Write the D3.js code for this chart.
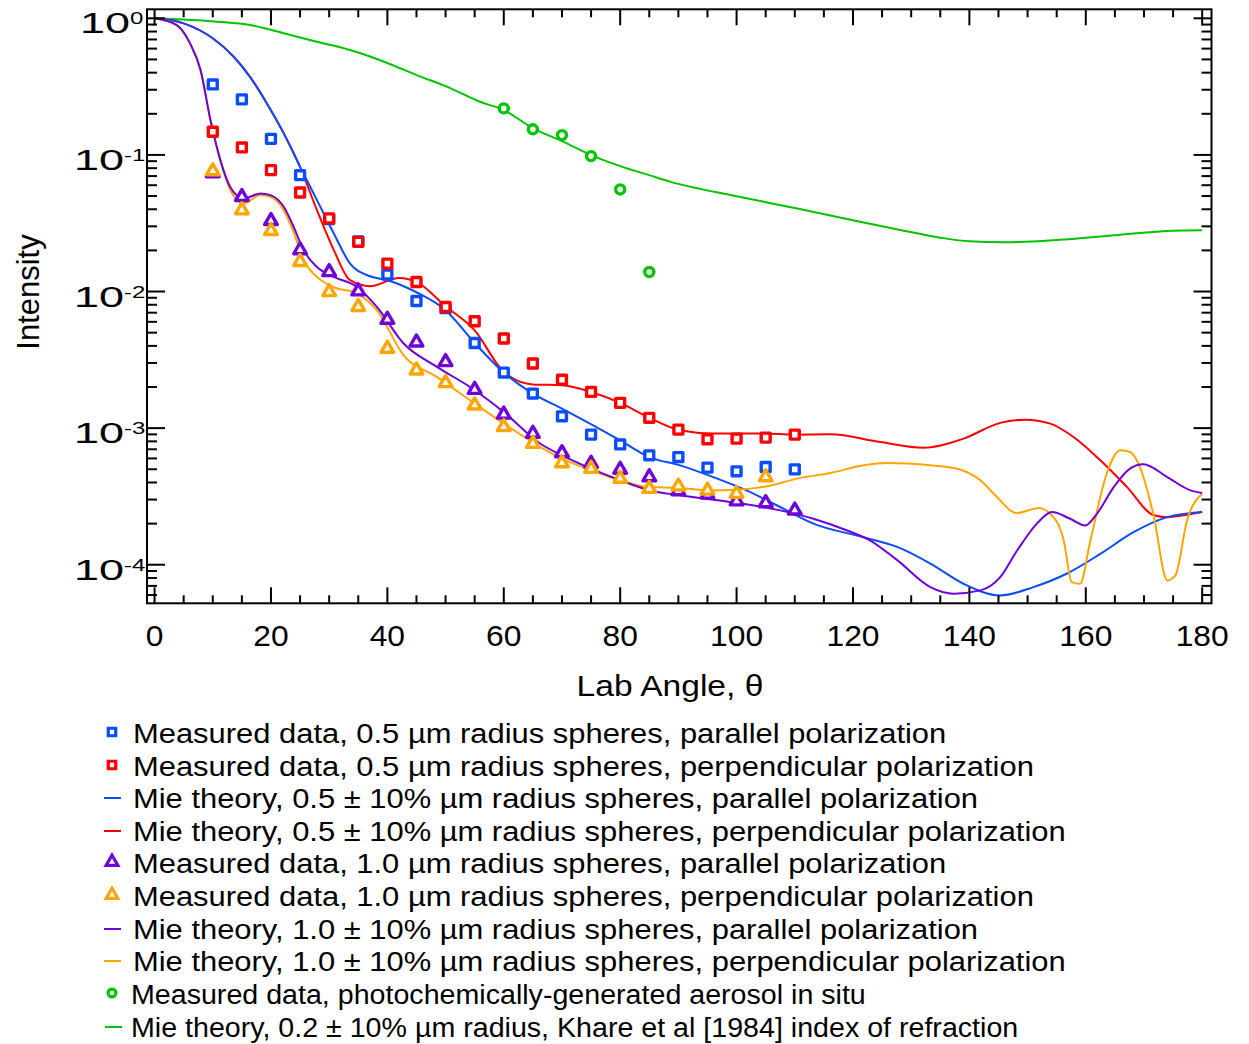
<!DOCTYPE html>
<html>
<head>
<meta charset="utf-8">
<script src="https://cdn.jsdelivr.net/npm/d3@7"></script>
<style>
  html, body { margin: 0; padding: 0; background: #fff; }
  svg { display: block; font-family: "Liberation Sans", Arial, sans-serif; }
</style>
</head>
<body>
<svg id="chart" width="1249" height="1044"></svg>
<script>
// ---- measured data (lab angle in degrees, relative intensity) ----
const measAngles = [10, 15, 20, 25, 30, 35, 40, 45, 50, 55, 60, 65, 70, 75, 80, 85, 90, 95, 100, 105, 110];
const meas05Par = [0.328, 0.255, 0.131, 0.0711, 0.0339, 0.0233, 0.0133, 0.00853, 0.00755, 0.0042, 0.00255, 0.00179, 0.00122, 0.000896, 0.00076, 0.000632, 0.000614, 0.000514, 0.000483, 0.000519, 0.000499];
const meas05Perp = [0.1477, 0.1135, 0.0774, 0.0531, 0.0343, 0.0231, 0.016, 0.01175, 0.00771, 0.00606, 0.00453, 0.00297, 0.00226, 0.00184, 0.00153, 0.00119, 0.000975, 0.000828, 0.000838, 0.000852, 0.000896];
const meas10Par = [0.0735, 0.0493, 0.0329, 0.0201, 0.0139, 0.01005, 0.00623, 0.00425, 0.00305, 0.00191, 0.00126, 0.000912, 0.000657, 0.00055, 0.000497, 0.000438, 0.000346, 0.000327, 0.000292, 0.000283, 0.00025];
const meas10PerpAngles = [10, 15, 20, 25, 30, 35, 40, 45, 50, 55, 60, 65, 70, 75, 80, 85, 90, 95, 100, 105];
const meas10Perp = [0.0761, 0.0394, 0.0278, 0.0165, 0.00993, 0.00771, 0.00382, 0.00265, 0.00214, 0.00147, 0.00102, 0.000769, 0.000555, 0.000505, 0.000427, 0.00036, 0.000375, 0.00035, 0.000331, 0.000438];
const aerosolAngles = [60, 65, 70, 75, 80, 85];
const aerosolMeas = [0.219, 0.154, 0.1396, 0.098, 0.0559, 0.0139];

// ---- Mie theory curves ----
const mie05ParAngles = [0, 5, 10, 13.6, 16.4, 19.3, 22.2, 25, 27.9, 30.8, 33.6, 37, 40, 45, 50, 55, 60, 65, 70, 80, 85, 90.3, 96, 101.7, 107.5, 113.2, 121.8, 127.6, 133.3, 139, 145.3, 151, 156.7, 162.5, 168.2, 174, 180];
const mie05Par = [1.0, 0.919, 0.714, 0.523, 0.373, 0.238, 0.1437, 0.0818, 0.0467, 0.0266, 0.016, 0.01294, 0.0121, 0.00988, 0.0073, 0.0042, 0.00255, 0.00179, 0.00139, 0.000814, 0.000614, 0.000534, 0.000438, 0.00035, 0.000264, 0.0002, 0.000159, 0.000135, 0.000102, 0.0000726, 0.0000596, 0.0000686, 0.0000859, 0.00012, 0.000173, 0.000223, 0.000243];

const mie05PerpAngles = [0, 5, 10, 13.6, 16.4, 19.3, 22.2, 25, 27.9, 30.8, 33.6, 37, 42, 45, 50, 55, 60, 65, 70, 75, 80, 85, 90.3, 96, 104.6, 110, 116.1, 124.7, 132.1, 139, 145.3, 149.6, 153.9, 157.9, 162.5, 167.1, 171.7, 174, 176.8, 180];
const mie05Perp = [1.0, 0.919, 0.714, 0.523, 0.373, 0.238, 0.1437, 0.0818, 0.0394, 0.0201, 0.0121, 0.01094, 0.01258, 0.01175, 0.0078, 0.0052, 0.00258, 0.00209, 0.00206, 0.00184, 0.00153, 0.00119, 0.000964, 0.000912, 0.000912, 0.000896, 0.000901, 0.000791, 0.000719, 0.000838, 0.001093, 0.001153, 0.001079, 0.000861, 0.000581, 0.00037, 0.00023, 0.000223, 0.00023, 0.000243];

const mie10ParAngles = [0, 3.8, 6.1, 7.9, 9.6, 11.3, 13, 15.3, 18.2, 19.9, 22.2, 23.9, 25.6, 27.9, 30.8, 34.8, 38.2, 42.8, 48.5, 54.2, 60, 66.3, 70, 75, 80, 85, 90.3, 98.8, 107.5, 113.2, 119, 122.9, 127.6, 133.3, 137.3, 141.9, 145.3, 148.2, 151.6, 154.2, 157.3, 159.9, 161.9, 164.8, 167.6, 169.9, 174, 178, 180];
const mie10Par = [1.0, 0.893, 0.656, 0.418, 0.18, 0.0916, 0.0583, 0.048, 0.0522, 0.0508, 0.0417, 0.0297, 0.0201, 0.0151, 0.0128, 0.0108, 0.00771, 0.00416, 0.00281, 0.002, 0.00131, 0.000769, 0.000632, 0.000505, 0.000415, 0.000351, 0.000322, 0.000288, 0.00025, 0.000217, 0.000178, 0.000151, 0.000108, 0.0000686, 0.0000614, 0.0000649, 0.0000811, 0.000127, 0.0002, 0.000243, 0.000217, 0.000194, 0.000236, 0.00037, 0.000505, 0.000543, 0.000438, 0.00035, 0.000335];

const mie10PerpAngles = [0, 3.8, 6.1, 7.9, 9.6, 11.3, 13, 15.3, 18.2, 19.9, 22.2, 23.9, 25.6, 27.9, 30.8, 34.8, 38.2, 42.8, 48.5, 54.2, 60, 66.3, 70, 75, 80, 85, 90.3, 94.9, 100, 105.2, 110.4, 116.1, 121.8, 125.8, 133.3, 137.9, 141.9, 144.2, 148.2, 151.9, 153.9, 156.2, 157.6, 159, 160.8, 163.6, 165.9, 167.6, 169.3, 171.6, 174, 175.4, 177.4, 180];
const mie10Perp = [1.0, 0.893, 0.656, 0.418, 0.18, 0.0916, 0.0552, 0.0441, 0.0508, 0.0493, 0.0394, 0.0272, 0.017, 0.0128, 0.01075, 0.00967, 0.0073, 0.00341, 0.00237, 0.0016, 0.00108, 0.000727, 0.000598, 0.000491, 0.000415, 0.00037, 0.000365, 0.00035, 0.000354, 0.000375, 0.000427, 0.000469, 0.000534, 0.000555, 0.000534, 0.000505, 0.000415, 0.000331, 0.000239, 0.00026, 0.000236, 0.000151, 0.0000746, 0.0000726, 0.000151, 0.000464, 0.000688, 0.000668, 0.000519, 0.000236, 0.0000767, 0.0000836, 0.000211, 0.000331];

const mieAerosolAngles = [0, 10.7, 16.4, 22.2, 27.9, 33.6, 40, 45, 50, 55.9, 60, 65, 70, 75, 80, 85, 88.7, 100, 110, 120, 128.3, 135, 140, 145.8, 155, 165, 175, 180];
const mieAerosol = [1.0, 0.944, 0.893, 0.777, 0.674, 0.586, 0.471, 0.384, 0.319, 0.245, 0.213, 0.157, 0.126, 0.0997, 0.0828, 0.0711, 0.0635, 0.0499, 0.0408, 0.0333, 0.0281, 0.0248, 0.0233, 0.0229, 0.0238, 0.0258, 0.0279, 0.0281];

// ---- axis ticks ----
const xTickLabels = [0, 20, 40, 60, 80, 100, 120, 140, 160, 180];
const xMinorTicks = [0, 5, 10, 15, 20, 25, 30, 35, 40, 45, 50, 55, 60, 65, 70, 75, 80, 85, 90, 95, 100, 105, 110, 115, 120, 125, 130, 135, 140, 145, 150, 155, 160, 165, 170, 175, 180];
const yDecades = [1, 0.1, 0.01, 0.001, 0.0001];
const yExponents = ["0", "-1", "-2", "-3", "-4"];

const legendLabels = [
  "Measured data, 0.5 µm radius spheres, parallel polarization",
  "Measured data, 0.5 µm radius spheres, perpendicular polarization",
  "Mie theory, 0.5 ± 10% µm radius spheres, parallel polarization",
  "Mie theory, 0.5 ± 10% µm radius spheres, perpendicular polarization",
  "Measured data, 1.0 µm radius spheres, parallel polarization",
  "Measured data, 1.0 µm radius spheres, perpendicular polarization",
  "Mie theory, 1.0 ± 10% µm radius spheres, parallel polarization",
  "Mie theory, 1.0 ± 10% µm radius spheres, perpendicular polarization",
  "Measured data, photochemically-generated aerosol in situ",
  "Mie theory, 0.2 ± 10% µm radius, Khare et al [1984] index of refraction"
];

const C = {
  blue: "#0a4cff",
  red: "#ff0000",
  purple: "#6f00d8",
  orange: "#ffa500",
  green: "#00c400"
};

const svg = d3.select("#chart");
svg.append("rect").attr("width", 1249).attr("height", 1044).attr("fill", "#fff");

const plotLeft = 147, plotRight = 1211.5, plotTop = 9.3, plotBottom = 603.3;
const x = d3.scaleLinear().domain([-1.3, 181.6]).range([plotLeft, plotRight]);
const y = d3.scaleLog().domain([1.164, 5.22e-5]).range([plotTop, plotBottom]);

svg.append("defs").append("clipPath").attr("id", "plotClip")
  .append("rect").attr("x", plotLeft).attr("y", plotTop)
  .attr("width", plotRight - plotLeft).attr("height", plotBottom - plotTop);

const plot = svg.append("g").attr("clip-path", "url(#plotClip)");

function curve(angles, values, color) {
  const pts = angles.map((a, i) => [a, values[i]]);
  const line = d3.line().x(d => x(d[0])).y(d => y(d[1])).curve(d3.curveMonotoneX);
  plot.append("path").attr("d", line(pts)).attr("fill", "none")
    .attr("stroke", color).attr("stroke-width", 2).attr("stroke-linejoin", "round");
}

curve(mieAerosolAngles, mieAerosol, C.green);
curve(mie05PerpAngles, mie05Perp, C.red);
curve(mie05ParAngles, mie05Par, C.blue);
curve(mie10PerpAngles, mie10Perp, C.orange);
curve(mie10ParAngles, mie10Par, C.purple);

const symSquare = d3.symbol(d3.symbolSquare, 80);
const symTri = d3.symbol(d3.symbolTriangle, 70);
const symCircle = d3.symbol(d3.symbolCircle, 64);

function markers(angles, values, sym, color) {
  plot.append("g").selectAll("path").data(angles.map((a, i) => [a, values[i]])).join("path")
    .attr("d", sym)
    .attr("transform", d => `translate(${x(d[0])},${y(d[1])})`)
    .attr("fill", "#fff").attr("stroke", color).attr("stroke-width", 3.4)
    .attr("stroke-linejoin", "round");
}

markers(measAngles, meas05Par, symSquare, C.blue);
markers(measAngles, meas05Perp, symSquare, C.red);
markers(measAngles, meas10Par, symTri, C.purple);
markers(meas10PerpAngles, meas10Perp, symTri, C.orange);
markers(aerosolAngles, aerosolMeas, symCircle, C.green);

// ---- frame and inward ticks ----
const axes = svg.append("g").attr("stroke", "#000").attr("stroke-width", 2);
axes.append("rect").attr("x", plotLeft).attr("y", plotTop)
  .attr("width", plotRight - plotLeft).attr("height", plotBottom - plotTop)
  .attr("fill", "none");

xMinorTicks.forEach(t => {
  const len = t % 20 === 0 ? 16 : 8;
  const px = x(t);
  axes.append("line").attr("x1", px).attr("x2", px).attr("y1", plotBottom).attr("y2", plotBottom - len);
  axes.append("line").attr("x1", px).attr("x2", px).attr("y1", plotTop).attr("y2", plotTop + len);
});

const yTicks = [];
yDecades.forEach(d => {
  yTicks.push([d, 18]);
  [2, 3, 4, 5, 6, 7, 8, 9].forEach(m => {
    const v = d * m;
    if (v <= y.domain()[0]) yTicks.push([v, 10]);
  });
});
[2, 3, 4, 5, 6, 7, 8, 9].forEach(m => {
  const v = 1e-5 * m;
  if (v >= y.domain()[1]) yTicks.push([v, 10]);
});
yTicks.forEach(([v, len]) => {
  const py = y(v);
  axes.append("line").attr("x1", plotLeft).attr("x2", plotLeft + len).attr("y1", py).attr("y2", py);
  axes.append("line").attr("x1", plotRight).attr("x2", plotRight - len).attr("y1", py).attr("y2", py);
});

// ---- tick labels (the typeface is set wide, so glyphs are stretched horizontally) ----
function wideText(parent, px, py, sx, size, anchor) {
  return parent.append("text")
    .attr("transform", `translate(${px},${py}) scale(${sx},1)`)
    .attr("font-size", size).attr("text-anchor", anchor).attr("fill", "#000");
}

const xl = svg.append("g");
xTickLabels.forEach(t => {
  wideText(xl, x(t), 646, 1.06, 30, "middle").text(t);
});

const yl = svg.append("g");
yDecades.forEach((d, i) => {
  const t = wideText(yl, i === 0 ? 80 : 74, y(d) + 15, 1.5, 30, "start");
  t.append("tspan").text("10");
  t.append("tspan").attr("dy", -9).attr("font-size", 16).text(yExponents[i]);
});

wideText(svg, 670, 696, 1.12, 30, "middle").text("Lab Angle, θ");
svg.append("text").attr("transform", "translate(39,292) rotate(-90)").attr("text-anchor", "middle")
  .attr("font-size", 31).text("Intensity");

// ---- legend ----
const legendY = [733, 766, 798, 831, 863, 896, 929, 961, 994, 1027];
const legendKinds = [
  ["square", C.blue], ["square", C.red], ["line", C.blue], ["line", C.red],
  ["tri", C.purple], ["tri", C.orange], ["line", C.purple], ["line", C.orange],
  ["circle", C.green], ["line", C.green]
];
const lg = svg.append("g");
legendLabels.forEach((label, i) => {
  const cy = legendY[i];
  const [kind, color] = legendKinds[i];
  if (kind === "line") {
    lg.append("line").attr("x1", i === 9 ? 105 : 104).attr("x2", i === 9 ? 122 : 121)
      .attr("y1", cy).attr("y2", cy).attr("stroke", color).attr("stroke-width", 2);
  } else {
    const sym = kind === "square" ? d3.symbol(d3.symbolSquare, 56)
      : kind === "tri" ? d3.symbol(d3.symbolTriangle, 60) : d3.symbol(d3.symbolCircle, 48);
    lg.append("path").attr("d", sym).attr("transform", `translate(112,${cy - 1})`)
      .attr("fill", "#fff").attr("stroke", color).attr("stroke-width", 3.2);
  }
  const sx = i >= 8 ? 1.06 : 1.145;
  wideText(lg, i >= 8 ? 131 : 133, cy + 10, sx, 27, "start").text(label);
});
</script>
</body>
</html>
